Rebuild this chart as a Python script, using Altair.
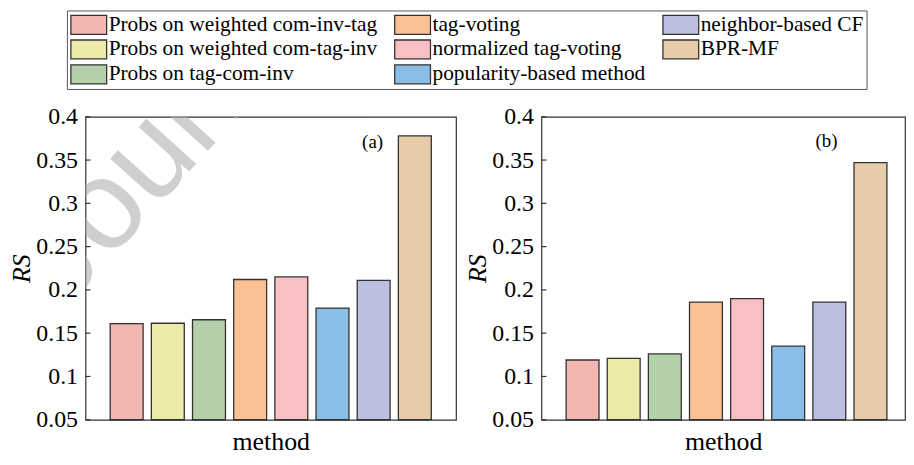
import altair as alt
import pandas as pd

# ---- data ----
methods = [
    "Probs on weighted com-inv-tag",
    "Probs on weighted com-tag-inv",
    "Probs on tag-com-inv",
    "tag-voting",
    "normalized tag-voting",
    "popularity-based method",
    "neighbor-based CF",
    "BPR-MF",
]
colors = ["#f1b7b0", "#eeeaaa", "#b5d1ac", "#f9c194", "#f8c0c3", "#8abee6", "#bcbfe0", "#e6cca8"]
rs_a = [0.161, 0.1615, 0.1655, 0.212, 0.215, 0.179, 0.211, 0.378]
rs_b = [0.119, 0.121, 0.126, 0.186, 0.190, 0.135, 0.186, 0.347]
y_ticks = [0.05, 0.1, 0.15, 0.2, 0.25, 0.3, 0.35, 0.4]
panel_labels = ["(a)", "(b)"]
watermark = ["Journal"]

SERIF = "Liberation Serif"
PLOT_H = 305

color_scale = alt.Scale(domain=methods, range=colors)

legend = alt.Legend(
    title=None,
    orient="none",
    legendX=-18.7,
    legendY=-107,
    columns=3,
    columnPadding=16,
    rowPadding=2,
    clipHeight=22.5,
    symbolType="M-1,-0.53H1V0.53H-1Z",
    symbolSize=1296,
    symbolStrokeColor="#333",
    symbolStrokeWidth=1.3,
    symbolOffset=0,
    labelFont=SERIF,
    labelFontSize=21.5,
    labelColor="#000",
    labelLimit=500,
    labelOffset=1,
    strokeColor="#555",
    padding=3,
)


def panel(values, label, width, pad_outer, align, lab_x, lab_y, with_watermark=False):
    df = pd.DataFrame({"method": methods, "RS": values})
    xenc = alt.X(
        "method:N",
        sort=methods,
        scale=alt.Scale(paddingInner=0.2, paddingOuter=pad_outer, align=align),
        axis=alt.Axis(
            title="method", labels=False, ticks=False, domain=False,
            titleFont=SERIF, titleFontSize=26, titleFontWeight="normal",
            titleColor="#000", titlePadding=9,
        ),
    )
    yenc = alt.Y(
        "RS:Q",
        scale=alt.Scale(domain=[0.05, 0.4], nice=False, zero=False),
        axis=alt.Axis(
            title="RS", values=y_ticks, format="~g", ticks=False, domain=False, grid=False,
            labelFont=SERIF, labelFontSize=24, labelColor="#000", labelPadding=8,
            titleFont=SERIF, titleFontSize=26, titleFontStyle="italic",
            titleFontWeight="normal", titleColor="#000", titlePadding=1, zindex=0,
        ),
    )
    bars = alt.Chart(df).mark_bar(stroke="#333", strokeWidth=1.3, opacity=1).encode(
        x=xenc, y=yenc, y2=alt.datum(0.05),
        color=alt.Color("method:N", scale=color_scale, legend=legend),
    )
    ticks = alt.Chart(pd.DataFrame({"RS": y_ticks})).mark_rule(color="#333", strokeWidth=1.2).encode(
        y=alt.Y("RS:Q"), x=alt.value(0), x2=alt.value(5)
    )
    lab = alt.Chart(pd.DataFrame({"label": [label]})).mark_text(
        font=SERIF, fontSize=19, color="#000"
    ).encode(text="label:N", x=alt.value(lab_x), y=alt.value(lab_y))
    layers = [bars, ticks, lab]
    if with_watermark:
        wm = alt.Chart(pd.DataFrame({"w": watermark})).mark_text(
            font="Liberation Sans", fontSize=128, angle=312, align="left", baseline="alphabetic",
            color="#b0b0b0", opacity=0.6, clip=True,
        ).encode(text="w:N", x=alt.value(-20.7), y=alt.value(194))
        layers.append(wm)
    return alt.layer(*layers).properties(width=width, height=PLOT_H)


panel_a = panel(rs_a, panel_labels[0], 373, 0.6, 0.5, 289, 25, with_watermark=True)
panel_b = panel(rs_b, panel_labels[1], 366, 0.52, 0.577, 287, 24)

chart = (
    alt.hconcat(panel_a, panel_b, spacing=7)
    .properties(padding={"left": 0, "top": 0, "right": 0, "bottom": 0})
    .configure(font=SERIF)
    .configure_axis(labelFont=SERIF, titleFont=SERIF)
    .configure_legend(labelFont=SERIF)
    .configure_view(stroke="#333", strokeWidth=1.2)
)

chart.save("out.html", embed_options={"renderer": "svg", "actions": False})
